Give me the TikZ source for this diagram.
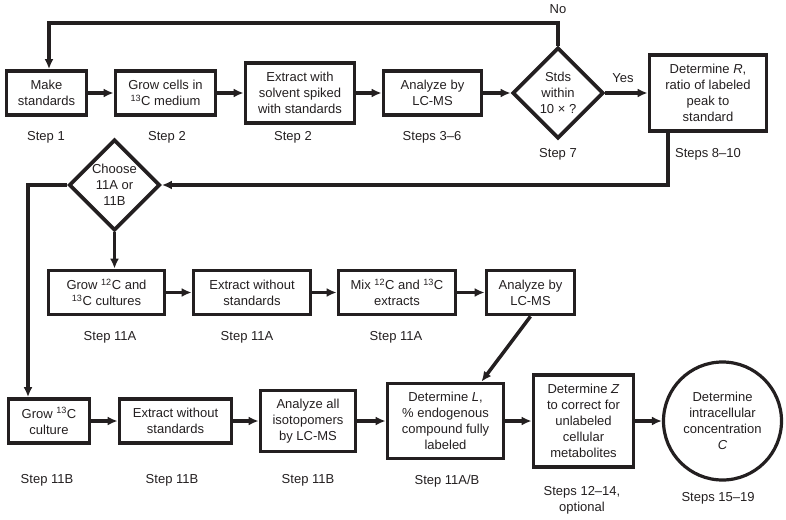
\documentclass[tikz,border=0pt]{standalone}
\usepackage{fontspec}
\setmainfont{Liberation Sans}
\usetikzlibrary{shapes.geometric,arrows.meta}
\definecolor{ink}{RGB}{35,31,32}

\begin{document}
\begin{tikzpicture}[x=1pt,y=-1pt,>={Latex[length=10pt,width=9pt]},
        every node/.style={font=\fontsize{13}{16}\selectfont, text=ink},
        box/.style={draw=ink, line width=3.8pt, align=center, inner sep=0pt},
        decide/.style={draw=ink, diamond, line width=3.8pt, align=center, inner sep=0pt, minimum size=91pt},
        stepnote/.style={align=center},
        flow/.style={draw=ink, line width=3.5pt, ->}]
        \useasboundingbox (0,0) rectangle (786,519);
        % 第一行
        \node[box, minimum width=80, minimum height=44] (make) at (46.5,93) {Make\\standards};
        \node[box, minimum width=100, minimum height=44] (grow) at (165.5,93) {Grow cells in\\\textsuperscript{13}C medium};
        \node[box, minimum width=109, minimum height=60] (spike) at (300,93) {Extract with\\solvent spiked\\with standards};
        \node[box, minimum width=98, minimum height=44] (lcms) at (432.5,93) {Analyze by\\LC-MS};
        \node[decide] (stds) at (558,93) {Stds\\within\\10 × ?};
        \node[box, minimum width=117, minimum height=76] (detR) at (708,93) {Determine \textit{R},\\ratio of labeled\\peak to\\standard};
        % 第二行 (11A)
        \node[decide] (choose) at (114.5,185) {Choose\\11A or\\11B};
        \node[box, minimum width=116, minimum height=44] (growA) at (106.5,292.5) {Grow \textsuperscript{12}C and\\\textsuperscript{13}C cultures};
        \node[box, minimum width=117, minimum height=44] (extA) at (252,292.5) {Extract without\\standards};
        \node[box, minimum width=117, minimum height=44] (mixA) at (397,292.5) {Mix \textsuperscript{12}C and \textsuperscript{13}C\\extracts};
        \node[box, minimum width=88, minimum height=44] (lcmsA) at (530.5,292.5) {Analyze by\\LC-MS};
        % 第三行 (11B)
        \node[box, minimum width=81, minimum height=44] (growB) at (49,421) {Grow \textsuperscript{13}C\\culture};
        \node[box, minimum width=112, minimum height=44] (extB) at (175.5,421) {Extract without\\standards};
        \node[box, minimum width=95, minimum height=61] (lcmsB) at (308,421) {Analyze all\\isotopomers\\by LC-MS};
        \node[box, minimum width=116, minimum height=75] (detL) at (445.5,421) {Determine \textit{L},\\\% endogenous\\compound fully\\labeled};
        \node[box, minimum width=100, minimum height=92] (detZ) at (583.5,421) {Determine \textit{Z}\\to correct for\\unlabeled\\cellular\\metabolites};
        \node[draw=ink, circle, line width=3.2pt, minimum size=118, align=center, inner sep=0pt] (conc) at (722.5,421) {Determine\\intracellular\\concentration\\\textit{C}};
        % 步骤
        \node[stepnote] (s1) at (46,137) {Step 1};
        \node[stepnote] (s2) at (167,137) {Step 2};
        \node[stepnote] (s3) at (293,137) {Step 2};
        \node[stepnote] (s4) at (432,137) {Steps 3--6};
        \node[stepnote] (s5) at (558,154) {Step 7};
        \node[stepnote] (s6) at (708,154) {Steps 8--10};
        \node[stepnote] (s7) at (110,337) {Step 11A};
        \node[stepnote] (s8) at (247,337) {Step 11A};
        \node[stepnote] (s9) at (396,337) {Step 11A};
        \node[stepnote] (s10) at (47,480) {Step 11B};
        \node[stepnote] (s11) at (172,480) {Step 11B};
        \node[stepnote] (s12) at (308,480) {Step 11B};
        \node[stepnote] (s13) at (447,481) {Step 11A/B};
        \node[stepnote] (s14) at (582,500) {Steps 12--14,\\optional};
        \node[stepnote] (s15) at (718,498) {Steps 15--19};
        \node (no) at (558,9) {No};
        \node (yes) at (623,78) {Yes};
        % 箭头
        \draw[flow] (make) -- (grow);
        \draw[flow] (grow) -- (spike);
        \draw[flow] (spike) -- (lcms);
        \draw[flow] (lcms) -- (stds);
        \draw[flow] (stds) -- (detR);
        \coordinate (noturn) at (558,23);
        \draw[flow] (stds.north) -- (noturn) -| ([xshift=2.5pt]make.north);
        \coordinate (backturn) at (668,185);
        \draw[flow] (detR.south -| backturn) -- (backturn) -- (choose.east);
        \draw[flow] (choose.west) -| ([xshift=-21pt]growB.north);
        \draw[flow] (choose.south) -- (choose.south |- growA.north);
        \draw[flow] (growA) -- (extA);
        \draw[flow] (extA) -- (mixA);
        \draw[flow] (mixA) -- (lcmsA);
        \draw[flow] (lcmsA.south) -- ([xshift=36pt]detL.north);
        \draw[flow] (growB) -- (extB);
        \draw[flow] (extB) -- (lcmsB);
        \draw[flow] (lcmsB) -- (detL);
        \draw[flow] (detL) -- (detZ);
        \draw[flow] (detZ) -- (conc);
    \end{tikzpicture}
\end{document}
